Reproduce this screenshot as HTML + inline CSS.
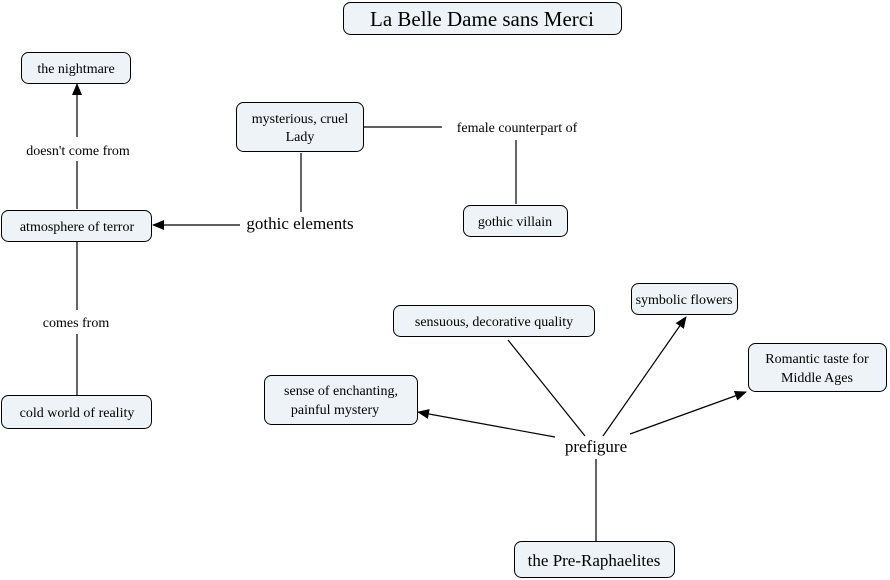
<!DOCTYPE html>
<html><head><meta charset="utf-8"><style>
html,body{margin:0;padding:0;background:#fff;}
svg{display:block;font-family:"Liberation Serif",serif;}
</style></head><body>
<svg width="890" height="580" viewBox="0 0 890 580" xmlns="http://www.w3.org/2000/svg">
<defs><marker id="a" markerWidth="12" markerHeight="10" refX="11" refY="5" orient="auto" markerUnits="userSpaceOnUse"><path d="M0,0 L12,5 L0,10 z" fill="#000"/></marker></defs>
<g stroke="#000" stroke-width="1.2" fill="none">
<line x1="77" y1="137" x2="77" y2="84" marker-end="url(#a)"/>
<line x1="77" y1="209" x2="77" y2="161"/>
<line x1="240" y1="225" x2="153" y2="225" marker-end="url(#a)"/>
<line x1="301" y1="153" x2="301" y2="212"/>
<line x1="364" y1="127" x2="442" y2="127"/>
<line x1="516" y1="140" x2="516" y2="204"/>
<line x1="77" y1="242" x2="77" y2="310"/>
<line x1="77" y1="334" x2="77" y2="395"/>
<line x1="555" y1="437" x2="418" y2="412" marker-end="url(#a)"/>
<line x1="508" y1="340" x2="585" y2="436"/>
<line x1="603" y1="436" x2="686" y2="317" marker-end="url(#a)"/>
<line x1="630" y1="434" x2="746" y2="392" marker-end="url(#a)"/>
<line x1="596" y1="459" x2="596" y2="541"/>
</g>
<g fill="#edf3f6" stroke="#000" stroke-width="1">
<rect x="343.5" y="2.5" width="278" height="32" rx="7"/>
<rect x="21.5" y="52.5" width="109" height="31" rx="7"/>
<rect x="236.5" y="102.5" width="127" height="49" rx="7"/>
<rect x="463.5" y="205.5" width="104" height="31" rx="7"/>
<rect x="1.5" y="210.5" width="150" height="31" rx="7"/>
<rect x="1.5" y="395.5" width="150" height="33" rx="7"/>
<rect x="393.5" y="305.5" width="201" height="31" rx="7"/>
<rect x="631.5" y="283.5" width="106" height="31" rx="7"/>
<rect x="748.5" y="343.5" width="138" height="48" rx="7"/>
<rect x="264.5" y="375.5" width="153" height="49" rx="7"/>
<rect x="514.5" y="541.5" width="160" height="36" rx="7"/>
</g>
<g font-size="14" text-anchor="middle" fill="#000">
<text x="482" y="26" font-size="21">La Belle Dame sans Merci</text>
<text x="76" y="73">the nightmare</text>
<text x="300" y="123">mysterious, cruel</text>
<text x="300" y="141">Lady</text>
<text x="515" y="226">gothic villain</text>
<text x="77" y="231">atmosphere of terror</text>
<text x="77" y="417">cold world of reality</text>
<text x="494" y="326">sensuous, decorative quality</text>
<text x="684" y="304">symbolic flowers</text>
<text x="817" y="363">Romantic taste for</text>
<text x="817" y="382">Middle Ages</text>
<text x="341" y="395">sense of enchanting,</text>
<text x="335" y="414">painful mystery</text>
<text x="594" y="566" font-size="17">the Pre-Raphaelites</text>
<text x="78" y="155">doesn't come from</text>
<text x="76" y="327">comes from</text>
<text x="517" y="132">female counterpart of</text>
<text x="300" y="229" font-size="17">gothic elements</text>
<text x="596" y="452" font-size="17">prefigure</text>
</g>
</svg>
</body></html>
